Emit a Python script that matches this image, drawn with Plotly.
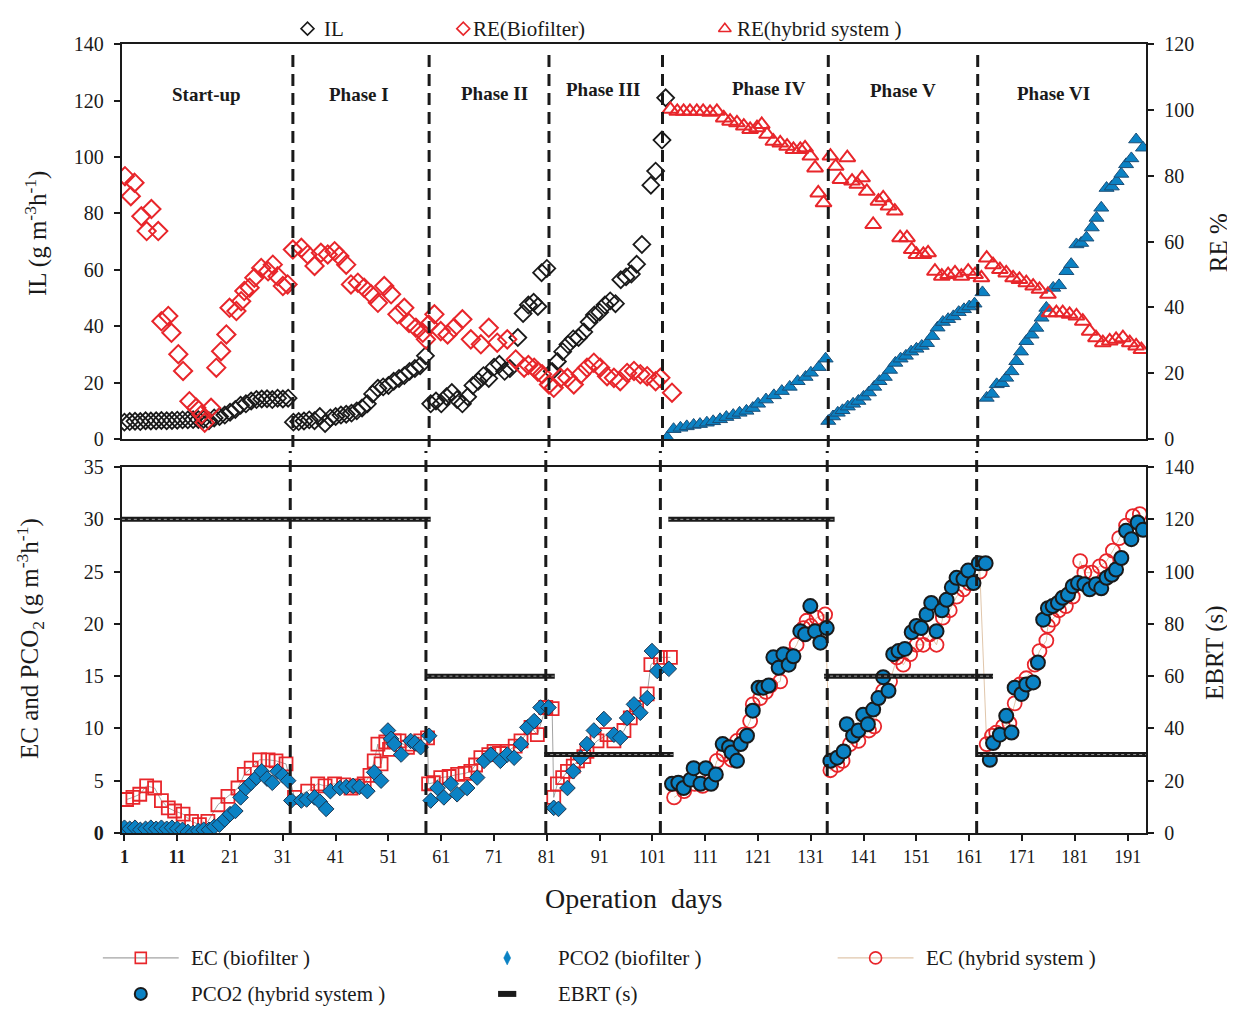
import plotly.graph_objects as go

# ---------------- DATA ----------------
# Top panel: inlet load (IL, g m-3 h-1, left axis) and removal efficiency (RE %, right axis)
il_bio_days = [1, 2, 3, 4, 5, 6, 7, 8, 9, 10, 11, 12, 13, 14, 15, 16, 17, 18, 19, 20, 21, 22, 23, 24, 25, 26, 27, 28, 29, 30, 31, 32,
               33, 34, 35, 36, 37, 38, 39, 40, 41, 42, 43, 44, 45, 46, 47, 48, 49, 50, 51, 52, 53, 54, 55, 56, 57, 58,
               59, 60, 61, 62, 63, 64, 65, 66, 67, 68, 69, 70, 71, 72, 73, 74, 75.5, 76.5, 77.5, 78.5, 79.3, 80, 81,
               82, 83, 84, 85, 86, 87, 88, 89, 90, 91, 92, 93, 94, 95, 96, 97, 98, 99, 100.7, 101.6, 102.8, 103.5]
il_bio = [6.0, 6.2, 6.3, 6.2, 6.5, 6.4, 6.5, 6.6, 6.5, 6.6, 6.7, 6.8, 6.8, 6.9, 6.9, 7.0, 6.5, 7.5, 8.0, 8.5, 9.5, 10.5, 12.0, 12.5, 13.5, 14.0, 14.2, 14.3, 14.0, 14.5, 14.2, 14.5,
          6.0, 6.2, 6.4, 6.8, 6.5, 8.0, 5.5, 7.5, 8.0, 8.5, 8.8, 9.2, 10.0, 11.0, 12.5, 16.0, 18.0, 18.5, 19.0, 20.5, 21.5, 22.5, 24.0, 25.0, 26.0, 29.5,
          12.5, 13.5, 12.5, 15.0, 16.5, 14.0, 12.5, 15.0, 19.0, 20.5, 22.5, 21.5, 25.5, 26.5, 24.0, 25.0, 36.0, 44.5, 47.5, 48.5, 47.0, 59.0, 60.5,
          24.0, 27.5, 31.0, 33.5, 35.5, 36.0, 38.0, 41.5, 44.0, 45.0, 47.5, 49.0, 48.0, 56.5, 57.5, 58.5, 62.0, 69.0, 90.0, 95.0, 106.0, 121.0]

re_bio_days = [1.1, 2.2, 2.9, 4.2, 5.2, 6.1, 7.4, 8.0, 9.3, 9.9, 11.2, 12.1, 13.3, 14.6, 15.6, 16.2, 17.4, 18.4, 19.3, 20.3, 20.9, 22.2,
               23.1, 23.7, 24.7, 25.6, 26.9, 28.2, 29.1, 30.0, 31.0, 31.9,
               32.9, 34.5, 35.7, 37.0, 38.2, 39.5, 40.8, 41.7, 43.0, 43.9, 45.2, 46.4, 47.7, 49.0, 50.2, 51.5, 52.7, 54.0, 54.9, 56.2, 57.5, 58.1,
               58.6, 59.7, 60.9, 62.2, 63.4, 65.0, 66.6, 68.5, 70.0, 71.6, 73.5, 75.1, 76.7, 77.5, 78.6, 79.3, 80.1, 81.4, 82.3,
               83.6, 84.9, 86.1, 87.4, 88.6, 89.9, 91.1, 92.4, 93.7, 94.9, 96.2, 97.5, 98.7, 100.0, 101.6, 102.5, 104.7]
re_bio = [79.9, 73.8, 77.9, 67.7, 63.2, 69.9, 63.2, 35.8, 37.4, 32.3, 25.8, 20.7, 11.5, 9.5, 7.5, 5.0, 9.5, 21.7, 26.7, 31.8, 39.9, 38.9,
          41.9, 45.0, 46.0, 49.0, 52.0, 51.0, 53.0, 49.5, 46.5, 47.0,
          57.6, 58.1, 56.1, 52.6, 56.6, 56.1, 57.1, 55.6, 53.0, 47.0, 47.5, 46.0, 44.0, 41.4, 46.5, 44.0, 37.9, 39.9, 35.3, 33.8, 32.3, 30.3,
          34.8, 37.9, 32.8, 31.8, 33.8, 36.4, 30.3, 28.8, 33.8, 29.3, 30.3, 24.2, 21.7, 22.5, 21.7, 20.5, 19.7, 16.6, 15.6,
          18.6, 18.6, 16.6, 19.7, 21.7, 23.2, 21.7, 19.1, 18.6, 17.6, 20.1, 20.7, 19.7, 19.1, 17.6, 18.6, 14.1]

re_hyb_days = [104.4, 105.7, 106.9, 108.1, 109.4, 110.6, 111.9, 113.2, 114.5, 115.7, 117.0, 118.3, 119.5, 120.8, 121.7, 122.7, 123.9,
               125.2, 126.5, 127.7, 129.0, 129.9, 130.9, 131.8, 132.4, 133.4,
               134.7, 135.7, 136.6, 137.9, 138.8, 139.8, 140.7, 141.6, 142.8, 143.8, 144.7, 145.7, 146.9, 147.9, 149.2, 150.1, 151.0,
               152.3, 153.2, 154.5, 155.8, 157.0, 158.3, 159.5, 160.8, 162.1, 163.3,
               164.3, 165.5, 166.8, 168.0, 169.3, 170.5, 171.8, 173.1, 174.3, 175.9, 176.2, 177.5, 178.7, 180.0, 181.3, 182.5, 183.8,
               185.0, 186.3, 187.6, 188.8, 190.1, 191.4, 192.6, 193.6]
re_hyb = [100.2, 99.6, 99.6, 99.6, 99.6, 99.6, 99.3, 99.6, 97.6, 96.6, 96.1, 95.1, 94.1, 94.6, 95.6, 92.6, 90.5,
          90.0, 89.0, 88.0, 88.0, 88.5, 86.0, 82.4, 74.8, 71.8,
          86.0, 82.9, 78.9, 85.5, 78.4, 77.4, 79.4, 75.3, 65.2, 72.3, 73.3, 70.8, 69.3, 61.2, 61.2, 57.6, 56.1,
          56.1, 56.6, 51.0, 49.5, 50.0, 50.5, 49.5, 51.0, 50.0, 49.0,
          55.0, 53.0, 51.5, 50.5, 49.0, 48.5, 47.5, 46.5, 45.5, 44.0, 38.4, 38.4, 38.4, 37.9, 37.4, 35.8, 32.8,
          30.8, 29.3, 29.8, 30.3, 30.8, 29.3, 28.3, 27.2]

il_hyb_days = [103.8, 105.0, 106.3, 107.5, 108.8, 110.0, 111.3, 112.5, 113.8, 115.0, 116.3, 117.5, 118.8, 120.0, 121.0, 122.5,
               124.0, 125.5, 127.0, 128.5, 130.0, 131.0, 132.5, 133.8,
               134.3, 135.2, 136.1, 137.0, 138.0, 139.0, 140.0, 141.0, 142.0, 143.0, 144.0, 145.0, 146.0, 147.0, 148.0, 149.0,
               150.0, 151.0, 152.0, 153.0, 154.0, 155.0, 156.0, 157.0, 158.0, 159.0, 160.0, 161.0, 162.0, 163.5,
               164.3, 165.3, 166.2, 167.2, 168.0, 169.0, 169.9, 170.8, 171.8, 172.8, 173.7, 174.7, 175.6, 176.9, 178.0, 179.4,
               180.3, 181.3, 182.2, 183.2, 184.2, 185.1, 186.0, 187.0, 188.0, 188.9, 189.8, 190.7, 191.7, 192.6, 193.9]
il_hyb = [0.5, 3.5, 4.0, 4.5, 5.0, 5.3, 5.8, 6.3, 7.0, 7.8, 8.5, 9.3, 10.0, 11.0, 12.5, 14.0,
          15.5, 17.0, 18.5, 20.5, 22.0, 23.5, 25.5, 28.5,
          6.4, 8.0, 9.3, 10.2, 11.5, 12.5, 13.5, 15.0, 16.5, 18.5, 20.5, 22.0, 24.5, 27.0, 28.5, 29.5,
          31.0, 32.0, 33.0, 34.0, 36.5, 39.5, 41.5, 42.5, 43.5, 45.0, 46.0, 47.0, 48.0, 52.0,
          14.6, 16.0, 19.4, 19.8, 21.7, 24.0, 27.6, 31.0, 34.7, 37.0, 39.4, 43.0, 46.5, 53.6, 54.5, 59.5,
          62.0, 69.0, 69.5, 71.4, 75.0, 78.4, 82.0, 89.0, 89.5, 91.4, 94.0, 97.4, 99.5, 106.2, 103.3]

# Bottom panel: elimination capacity (EC) and CO2 production (PCO2), g m-3 h-1
ec_bio_days = [1.4, 2.6, 3.9, 5.2, 6.7, 8.0, 9.3, 10.5, 12.1, 13.7, 15.2, 16.8, 18.7, 20.6, 22.5, 23.7, 25.0, 26.6, 28.2, 29.7, 31.6,
               33.2, 35.7, 37.6, 39.0, 40.8, 42.5, 43.9, 45.2, 46.4, 47.5, 48.3, 49.0, 49.6, 50.5, 51.2, 52.1, 53.0, 54.6, 55.5, 57.1, 58.4,
               58.6, 59.5, 60.9, 62.5, 64.1, 65.5, 66.6, 67.5, 68.5, 70.0, 71.0, 72.0, 73.5, 75.0, 76.1, 78.0, 79.2, 80.8, 82.0,
               82.3, 83.0, 84.0, 84.9, 86.0, 86.8, 88.0, 88.6, 90.5, 92.4, 93.7, 95.6, 96.8, 98.0, 100.0, 100.7, 102.5, 104.4]
ec_bio = [3.2, 3.4, 3.7, 4.5, 4.3, 3.1, 2.4, 2.1, 1.8, 1.1, 0.8, 1.1, 2.7, 3.5, 4.3, 5.6, 6.2, 7.0, 7.0, 6.9, 6.6,
          3.4, 4.0, 4.7, 4.5, 4.7, 4.6, 4.3, 4.5, 4.7, 5.5, 6.9, 8.5, 6.6, 8.7, 8.0, 8.8, 8.8, 8.2, 8.5, 8.8, 9.1,
          4.7, 4.8, 5.3, 5.4, 5.6, 5.7, 5.9, 6.5, 7.2, 7.5, 7.8, 7.6, 7.8, 8.3, 8.8, 10.1, 9.4, 12.0, 11.9,
          3.4, 4.7, 5.3, 5.9, 6.4, 6.9, 7.3, 7.8, 8.8, 9.4, 8.8, 9.8, 11.0, 12.0, 13.3, 16.1, 16.8, 16.8]

pco2_bio_days = [1, 2, 3, 4, 5, 6, 7, 8, 9, 10, 11, 12, 13, 14, 15, 16, 17, 18, 19, 20, 21, 22, 23, 24, 25, 26, 27, 28, 29, 30, 31, 32,
                 32.6, 34.5, 35.5, 37.0, 38.0, 39.2, 40.0, 41.8, 43.0, 44.3, 45.5, 47.0, 48.3, 49.6, 50.9, 51.5, 52.1, 53.4, 55.2, 56.0, 57.1, 58.7,
                 59.0, 60.3, 61.5, 62.8, 64.0, 65.9, 67.8, 69.1, 70.4, 72.2, 73.5, 74.8, 76.1, 77.3, 78.6, 79.8, 81.3,
                 82.3, 83.2, 84.9, 86.0, 87.4, 88.6, 89.9, 91.8, 93.7, 94.9, 96.2, 97.5, 98.7, 100.0, 100.9, 101.9, 104.1]
pco2_bio = [0.5, 0.4, 0.5, 0.3, 0.4, 0.5, 0.4, 0.5, 0.4, 0.5, 0.4, 0.3, 0.1, 0.0, 0.2, 0.3, 0.3, 0.6, 0.8, 1.3, 1.8, 2.1, 3.4, 4.3,
            4.8, 5.3, 5.9, 5.2, 4.8, 5.9, 5.5, 5.0,
            3.1, 3.1, 3.2, 3.4, 3.0, 2.3, 4.0, 4.3, 4.4, 4.5, 4.4, 4.0, 5.8, 5.0, 9.8, 9.0, 8.5, 7.5, 8.8, 8.6, 8.2, 9.3,
            3.1, 4.3, 3.4, 4.7, 3.7, 4.3, 5.3, 6.9, 7.5, 6.9, 7.5, 7.2, 8.5, 10.1, 10.7, 12.0, 12.0,
            2.4, 2.3, 4.3, 5.9, 7.2, 8.5, 9.8, 10.9, 9.4, 9.1, 11.0, 12.3, 11.5, 12.9, 17.4, 15.5, 15.7]

ec_hyb_days = [105.1, 107.0, 109.0, 110.5, 112.0, 113.2, 114.5, 116.0, 117.0, 118.3, 119.5, 120.0, 121.4, 122.5, 123.3, 125.2, 125.8,
               127.0, 128.3, 129.6, 130.2, 131.0, 132.1, 133.7,
               134.7, 136.0, 137.0, 138.4, 140.0, 142.0, 143.0, 144.7, 146.0, 147.3, 148.5, 149.8, 151.0, 152.3, 153.5, 154.8, 156.0,
               157.3, 158.6, 159.9, 161.0, 163.0,
               164.3, 165.3, 166.1, 167.4, 168.6, 169.6, 170.6, 171.8, 173.4, 174.3, 175.6, 175.9, 176.8, 178.0, 179.3, 180.6, 182.0,
               182.8, 184.2, 185.7, 187.0, 188.2, 189.4, 190.7, 192.0, 193.3]
ec_hyb = [3.4, 4.0, 4.7, 4.5, 5.0, 6.9, 7.5, 7.0, 8.8, 9.4, 10.7, 12.3, 12.9, 13.5, 14.1, 14.5, 16.8,
          17.0, 18.0, 19.6, 20.3, 19.8, 20.6, 20.9,
          6.0, 6.5, 6.9, 8.5, 8.8, 9.8, 10.2, 13.6, 14.5, 16.8, 16.1, 17.1, 18.0, 18.0, 19.0, 18.0, 20.6,
          21.3, 22.6, 23.3, 23.9, 25.0,
          8.5, 9.3, 9.6, 10.2, 10.5, 12.4, 14.2, 14.8, 16.1, 17.4, 18.4, 19.8, 20.4, 21.3, 21.7, 22.6, 26.0,
          24.9, 24.9, 25.5, 26.0, 27.0, 28.2, 29.4, 30.3, 30.5]

pco2_hyb_days = [104.7, 105.9, 106.9, 108.2, 108.8, 110.1, 111.1, 112.1, 113.0, 114.3, 115.5, 116.0, 117.0, 117.7, 118.9, 120.0,
                 121.1, 122.0, 123.0, 123.9, 124.9, 125.8, 126.8, 127.7, 129.0, 129.9, 130.9, 131.8, 132.8, 134.0,
                 134.7, 136.0, 137.2, 137.8, 139.0, 140.0, 140.9, 141.8, 142.8, 143.8, 144.7, 145.7, 146.6, 147.6, 148.8, 150.1,
                 151.0, 151.9, 152.9, 153.8, 154.8, 155.8, 156.7, 157.7, 158.6, 159.9, 160.8, 161.8, 162.8, 164.1,
                 164.9, 165.5, 166.8, 168.0, 169.0, 169.6, 170.9, 171.8, 173.1, 174.0, 175.0, 175.9, 176.8, 177.8, 178.7,
                 179.7, 180.6, 181.6, 182.8, 183.8, 185.0, 186.0, 187.0, 188.0, 188.8, 189.8, 190.7, 191.7, 192.9, 193.9]
pco2_hyb = [4.7, 4.8, 4.3, 5.1, 6.2, 4.7, 6.2, 4.7, 5.6, 8.5, 8.2, 7.7, 6.9, 8.5, 9.3, 11.7,
            13.9, 13.9, 14.1, 16.8, 15.8, 17.1, 16.1, 16.9, 19.3, 19.0, 21.7, 19.3, 18.2, 19.6,
            6.9, 7.2, 7.8, 10.4, 9.3, 9.8, 11.3, 10.4, 11.8, 12.9, 14.9, 13.6, 17.1, 17.4, 17.6, 19.2,
            19.8, 19.6, 20.9, 22.0, 19.3, 21.3, 22.3, 23.5, 24.4, 24.3, 25.1, 23.9, 25.8, 25.8,
            7.0, 8.6, 9.4, 11.2, 9.6, 13.9, 13.3, 14.2, 14.4, 16.3, 20.4, 21.5, 21.7, 22.0, 22.5,
            22.8, 23.6, 23.9, 23.8, 23.3, 23.8, 23.4, 24.4, 24.7, 25.2, 26.3, 28.9, 28.1, 29.7, 29.0]

# Empty bed residence time (s, right axis of bottom panel), per operating period
ebrt_start = [0.5, 58.0, 80.5, 104.0, 133.5, 162.5]
ebrt_end = [59.0, 82.5, 105.0, 135.5, 165.5, 194.5]
ebrt_val = [120, 60, 30, 120, 60, 30]

# Phase boundaries (days) and labels
phase_bounds_top = [32.9, 58.7, 81.4, 102.9, 134.3, 162.6]
phase_bounds_bot = [32.4, 58.1, 80.8, 102.5, 134.1, 162.4]
phase_names = ["Start-up", "Phase I", "Phase II", "Phase III", "Phase IV", "Phase V", "Phase VI"]
phase_label_day = [16.5, 45.4, 71.0, 91.7, 123.1, 148.4, 177.0]
phase_label_il = [122.3, 122.3, 122.6, 124.0, 124.4, 123.6, 122.6]

x_ticks = [1, 11, 21, 31, 41, 51, 61, 71, 81, 91, 101, 111, 121, 131, 141, 151, 161, 171, 181, 191]

# ---------------- STYLE / LAYOUT ----------------
RED = "#e8262b"
BLUE = "#0b82c4"
BLK = "#1a1a1a"
SERIF = "Liberation Serif, Times New Roman, serif"

# figure placement inside the photographed page (measured): x offset, y offset and y scale
OX, OY, SY = 8.0, 18.2, 0.9785
W, H = 1227, 1010


def yf(py):                  # target screen y -> figure pixel y
    return py / SY - OY


def fx(px):                  # target screen x -> paper fraction
    return (px - OX) / W


def fy(py):                  # target screen y -> paper fraction
    return 1 - yf(py) / H


fig = go.Figure()

# ---- top panel ----
fig.add_trace(go.Scatter(x=il_bio_days, y=il_bio, mode="markers", name="IL", showlegend=False,
                         marker=dict(symbol="diamond-open", size=13, color=BLK, line=dict(width=1.8)),
                         xaxis="x", yaxis="y"))
fig.add_trace(go.Scatter(x=il_hyb_days, y=il_hyb, mode="markers", name="IL (hybrid system)", showlegend=False,
                         marker=dict(symbol="triangle-up", size=13, color=BLUE, line=dict(width=1, color="#1c4f78")),
                         xaxis="x", yaxis="y"))
fig.add_trace(go.Scatter(x=re_bio_days, y=re_bio, mode="markers", name="RE(Biofilter)", showlegend=False,
                         marker=dict(symbol="diamond-open", size=14, color=RED, line=dict(width=2)),
                         xaxis="x", yaxis="y2"))
fig.add_trace(go.Scatter(x=re_hyb_days, y=re_hyb, mode="markers", name="RE(hybrid system )", showlegend=False,
                         marker=dict(symbol="triangle-up-open", size=14, color=RED, line=dict(width=2)),
                         xaxis="x", yaxis="y2"))

# ---- bottom panel ----
ebrt_x, ebrt_y = [], []
for s, e, v in zip(ebrt_start, ebrt_end, ebrt_val):
    ebrt_x += [s, e, None]
    ebrt_y += [v, v, None]
fig.add_trace(go.Scatter(x=ebrt_x, y=ebrt_y, mode="lines", name="EBRT (s)", showlegend=False, hoverinfo="skip",
                         line=dict(color=BLK, width=5), xaxis="x2", yaxis="y4"))
fig.add_trace(go.Scatter(x=ebrt_x, y=ebrt_y, mode="lines", showlegend=False, hoverinfo="skip",
                         line=dict(color="#9a9a9a", width=1, dash="dot"), xaxis="x2", yaxis="y4"))

EC_BIO_LINE = "#8c8c8c"
EC_HYB_LINE = "#d8b896"
fig.add_trace(go.Scatter(x=ec_bio_days, y=ec_bio, mode="lines+markers", name="EC (biofilter )", showlegend=False,
                         line=dict(color=EC_BIO_LINE, width=0.8),
                         marker=dict(symbol="square-open", size=13, color=RED, line=dict(width=1.8)),
                         xaxis="x2", yaxis="y3"))
fig.add_trace(go.Scatter(x=pco2_bio_days, y=pco2_bio, mode="markers", name="PCO2 (biofilter )", showlegend=False,
                         marker=dict(symbol="diamond", size=12, color=BLUE, line=dict(width=1, color="#1c3550")),
                         xaxis="x2", yaxis="y3"))
fig.add_trace(go.Scatter(x=ec_hyb_days, y=ec_hyb, mode="lines+markers", name="EC (hybrid system )", showlegend=False,
                         line=dict(color=EC_HYB_LINE, width=0.8),
                         marker=dict(symbol="circle-open", size=14, color=RED, line=dict(width=1.8)),
                         xaxis="x2", yaxis="y3"))
fig.add_trace(go.Scatter(x=pco2_hyb_days, y=pco2_hyb, mode="markers", name="PCO2 (hybrid system )", showlegend=False,
                         marker=dict(symbol="circle", size=14, color=BLUE, line=dict(width=2, color=BLK)),
                         xaxis="x2", yaxis="y3"))

# ---- legend keys, drawn on a hidden full-figure pixel axis (layout only) ----
# (label, key x px, key y px, text x px, symbol, size, fill, outline, outline width, key line colour)
legend_keys = [
    ("IL", 306, 27.5, 321, "diamond-open", 10, BLK, BLK, 1.6, None),
    ("RE(Biofilter)", 462, 27.5, 470, "diamond-open", 10, RED, RED, 1.6, None),
    ("RE(hybrid system )", 724, 27.5, 734, "triangle-up-open", 11, RED, RED, 1.6, None),
    ("EC (biofilter )", 139, 957, 187, "square-open", 11, RED, RED, 1.6, EC_BIO_LINE),
    ("PCO2 (biofilter )", 506, 957, 555, "diamond-tall", 10, BLUE, BLUE, 0.5, None),
    ("EC (hybrid system )", 875, 957, 923, "circle-open", 12, RED, RED, 1.6, EC_HYB_LINE),
    ("PCO2 (hybrid system )", 139, 993, 187, "circle", 12, BLUE, BLK, 2, None),
    ("EBRT (s)", 506, 993, 555, "line-ew", 13, BLK, BLK, 6, None),
]
for lab, kx, ky, tx, sym, sz, fill, oc, ow, lc in legend_keys:
    if lc:
        fig.add_trace(go.Scatter(x=[kx - 38, kx + 38], y=[yf(ky), yf(ky)], mode="lines", showlegend=False,
                                 hoverinfo="skip", line=dict(color=lc, width=1),
                                 xaxis="x3", yaxis="y5", cliponaxis=False))
    fig.add_trace(go.Scatter(x=[kx], y=[yf(ky)], mode="markers", showlegend=False, hoverinfo="skip",
                             marker=dict(symbol=sym, size=sz, color=fill, line=dict(width=ow, color=oc)),
                             xaxis="x3", yaxis="y5", cliponaxis=False))

# ---- phase boundaries ----
shapes = []
dash = "12px,7px"
for d in phase_bounds_top:
    shapes.append(dict(type="line", xref="x", yref="paper", x0=d, x1=d, y0=fy(446), y1=fy(51),
                       line=dict(color=BLK, width=3, dash=dash)))
for d in phase_bounds_bot:
    shapes.append(dict(type="line", xref="x2", yref="paper", x0=d, x1=d, y0=fy(832), y1=fy(450),
                       line=dict(color=BLK, width=3, dash=dash)))

annotations = []
for name, d, v in zip(phase_names, phase_label_day, phase_label_il):
    annotations.append(dict(x=d, y=v, xref="x", yref="y", text="<b>%s</b>" % name, showarrow=False,
                            xanchor="center", yanchor="middle",
                            font=dict(family=SERIF, size=19, color=BLK)))

lg_font = dict(family=SERIF, size=21, color=BLK)
for lab, kx, ky, tx, *_ in legend_keys:
    annotations.append(dict(x=fx(tx), y=fy(ky), xref="paper", yref="paper", text=lab, showarrow=False,
                            xanchor="left", yanchor="middle", font=lg_font))

ttl = dict(family=SERIF, size=25, color=BLK)
for txt, px, py, ang, f in [
    ("IL (g m<sup>-3</sup>h<sup>-1</sup>)", 34, 232, -90, ttl),
    ("RE %", 1218, 242, -90, ttl),
    ("EC and PCO<sub>2</sub> (g m<sup>-3</sup>h<sup>-1</sup>)", 28, 637, -90, ttl),
    ("EBRT (s)", 1215, 652, -90, ttl),
    ("Operation  days", 633, 898, 0, dict(family=SERIF, size=28, color=BLK)),
]:
    annotations.append(dict(x=fx(px), y=fy(py), xref="paper", yref="paper", text=txt, textangle=ang,
                            showarrow=False, xanchor="center", yanchor="middle", font=f))

axis_common = dict(showline=True, linewidth=2, linecolor=BLK, showgrid=False, zeroline=False,
                   ticks="outside", ticklen=6, tickwidth=2, tickcolor=BLK,
                   tickfont=dict(family=SERIF, size=20, color=BLK))
y_axis_common = dict(axis_common, ticklabelstandoff=6)

tick_text = ["<b>%d</b>" % t if t in (1, 11) else str(t) for t in x_ticks]

x_dom = [fx(120), fx(1146)]
top_dom = [fy(438), fy(43)]
bot_dom = [fy(832), fy(466)]

fig.update_layout(
    width=W, height=H,
    margin=dict(l=0, r=0, t=0, b=0, pad=0),
    paper_bgcolor="white", plot_bgcolor="rgba(0,0,0,0)",
    showlegend=False,
    xaxis=dict(domain=x_dom, anchor="y", range=[0.5, 194.5], showline=True, linewidth=2, linecolor=BLK,
               mirror=True, showticklabels=False, ticks="", showgrid=False, zeroline=False),
    yaxis=dict(domain=top_dom, anchor="x", range=[0, 140], tickvals=[0, 20, 40, 60, 80, 100, 120, 140],
               **y_axis_common),
    yaxis2=dict(overlaying="y", side="right", anchor="x", range=[0, 120],
                tickvals=[0, 20, 40, 60, 80, 100, 120], **y_axis_common),
    xaxis2=dict(domain=x_dom, anchor="y3", range=[0.5, 194.5], tickvals=x_ticks, ticktext=tick_text,
                mirror=True, **{k: v for k, v in axis_common.items() if k != "tickfont"},
                tickfont=dict(family=SERIF, size=18, color=BLK)),
    yaxis3=dict(domain=bot_dom, anchor="x2", range=[0, 35], tickvals=[0, 5, 10, 15, 20, 25, 30, 35],
                ticktext=["<b>0</b>", "5", "10", "15", "20", "25", "30", "35"], **y_axis_common),
    yaxis4=dict(overlaying="y3", side="right", anchor="x2", range=[0, 140],
                tickvals=[0, 20, 40, 60, 80, 100, 120, 140], **y_axis_common),
    xaxis3=dict(domain=[0, 1], anchor="y5", range=[OX, OX + W], visible=False, fixedrange=True),
    yaxis5=dict(domain=[0, 1], anchor="x3", range=[H, 0], visible=False, fixedrange=True),
    shapes=shapes,
    annotations=annotations,
)

fig.write_html("out.html")
